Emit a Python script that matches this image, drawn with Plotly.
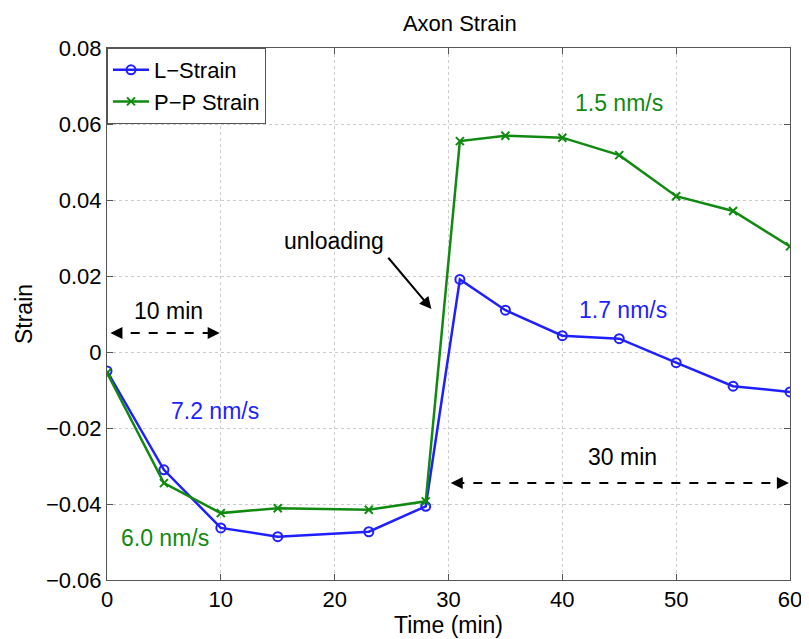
import plotly.graph_objects as go

time_l = [0, 5, 10, 15, 23, 28, 31, 35, 40, 45, 50, 55, 60]
l_strain = [-0.005, -0.031, -0.0463, -0.0486, -0.0473, -0.0406, 0.0191, 0.0110, 0.0043, 0.0035, -0.0028, -0.0090, -0.0105]
time_p = [0, 5, 10, 15, 23, 28, 31, 35, 40, 45, 50, 55, 60]
pp_strain = [-0.0055, -0.0345, -0.0424, -0.0411, -0.0415, -0.0393, 0.0555, 0.0569, 0.0564, 0.0518, 0.0410, 0.0371, 0.0278]

x_ticks = [0, 10, 20, 30, 40, 50, 60]
y_ticks = [-0.06, -0.04, -0.02, 0, 0.02, 0.04, 0.06, 0.08]

BLUE = "#1f1fff"
GREEN = "#108a10"
FONT = "Liberation Sans, Arial, sans-serif"

fig = go.Figure()
fig.add_trace(go.Scatter(x=time_l, y=l_strain, mode="lines+markers", name="L\u2212Strain",
                         line=dict(color=BLUE, width=2.5),
                         marker=dict(symbol="circle-open", size=9, color=BLUE, line=dict(width=2))))
fig.add_trace(go.Scatter(x=time_p, y=pp_strain, mode="lines+markers", name="P\u2212P Strain",
                         line=dict(color=GREEN, width=2.5),
                         marker=dict(symbol="x-thin-open", size=8, color=GREEN, line=dict(width=2, color=GREEN))))

# dashed double arrows
fig.add_shape(type="line", x0=0.5, x1=9.5, y0=0.005, y1=0.005, xref="x", yref="y",
              line=dict(color="black", width=2, dash="dash"))
fig.add_shape(type="line", x0=30.6, x1=59.6, y0=-0.0345, y1=-0.0345, xref="x", yref="y",
              line=dict(color="black", width=2, dash="dash"))

def head(x, y, ax):
    fig.add_annotation(x=x, y=y, ax=ax, ay=0, text="", showarrow=True, arrowhead=2,
                       arrowsize=1.2, arrowwidth=2, arrowcolor="black")

head(0.3, 0.005, 10)
head(9.9, 0.005, -10)
head(30.2, -0.0345, 10)
head(59.9, -0.0345, -10)

# unloading arrow
fig.add_annotation(x=28.5, y=0.0113, ax=24.6, ay=0.0252, axref="x", ayref="y", xref="x", yref="y",
                   text="", showarrow=True, arrowhead=2, arrowsize=1.2, arrowwidth=2, arrowcolor="black")

def label(x, y, text, color):
    fig.add_annotation(x=x, y=y, text=text, showarrow=False,
                       font=dict(family=FONT, size=23, color=color))

label(19.9, 0.0293, "unloading", "black")
label(5.4, 0.0109, "10 min", "black")
label(45.3, -0.0275, "30 min", "black")
label(9.5, -0.0156, "7.2 nm/s", BLUE)
label(5.1, -0.0489, "6.0 nm/s", GREEN)
label(45.0, 0.0654, "1.5 nm/s", GREEN)
label(45.3, 0.0110, "1.7 nm/s", BLUE)

axis_common = dict(showline=True, linecolor="#555555", linewidth=1, mirror="ticks",
                   ticks="inside", ticklen=6, tickcolor="#555555",
                   showgrid=True, gridcolor="#cccccc", griddash="dot", gridwidth=1,
                   zeroline=False, automargin=False,
                   tickfont=dict(family=FONT, size=22, color="black"))

fig.update_layout(
    width=801, height=631,
    paper_bgcolor="white", plot_bgcolor="white",
    margin=dict(l=99, r=19, t=40, b=59, autoexpand=False),
    title=dict(text="Axon Strain", x=0.564, xanchor="center", y=0.976, yanchor="middle",
               font=dict(family=FONT, size=22, color="black")),
    xaxis=dict(range=[0, 60], tickvals=x_ticks,
               title=dict(text="Time (min)", font=dict(family=FONT, size=23, color="black"), standoff=0),
               **axis_common),
    yaxis=dict(range=[-0.06, 0.08], tickvals=y_ticks, tickformat="~g",
               title=dict(text="Strain", font=dict(family=FONT, size=23, color="black"), standoff=6),
               **axis_common),
    legend=dict(x=0, y=1, xanchor="left", yanchor="top", bgcolor="white",
                bordercolor="#555555", borderwidth=1,
                font=dict(family=FONT, size=22, color="black"),
                tracegroupgap=0, itemwidth=36),
    showlegend=True,
)

fig.write_html("out.html")
